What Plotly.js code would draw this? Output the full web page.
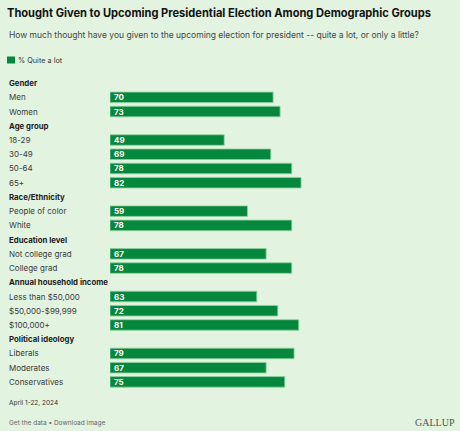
<!DOCTYPE html>
<html>
<head>
<meta charset="utf-8">
<script src="https://cdn.plot.ly/plotly-3.0.1.min.js"></script>
<style>
  html, body { margin: 0; padding: 0; background: #e2f3e0; }
  #chart { width: 460px; height: 431px; }
</style>
</head>
<body>
<div id="chart"></div>
<script>
// ---- Data ----
const groups = ["Gender", "Age group", "Race/Ethnicity", "Education level", "Annual household income", "Political ideology"];
const categories = [
  ["Men", "Women"],
  ["18-29", "30-49", "50-64", "65+"],
  ["People of color", "White"],
  ["Not college grad", "College grad"],
  ["Less than $50,000", "$50,000-$99,999", "$100,000+"],
  ["Liberals", "Moderates", "Conservatives"]
];
const values = [
  [70, 73],
  [49, 69, 78, 82],
  [59, 78],
  [67, 78],
  [63, 72, 81],
  [79, 67, 75]
];
const seriesName = "% Quite a lot";
const titleText = "Thought Given to Upcoming Presidential Election Among Demographic Groups";
const subtitleText = "How much thought have you given to the upcoming election for president -- quite a lot, or only a little?";
const dateText = "April 1-22, 2024";
const footerText = "Get the data \u2022 Download image";
const brandText = "GALLUP";

// ---- Layout constants ----
const W = 460, H = 431;
const M = { l: 110, r: 117, t: 76, b: 42 };
const PW = W - M.l - M.r, PH = H - M.t - M.b;
const px2x = px => (px - M.l) / PW;
const py2y = py => (H - M.b - py) / PH;

const BG = "#e2f3e0";
const GREEN = "#06873e";
const FONT = "Inter, 'Liberation Sans', Arial, sans-serif";

// ---- Build rows ----
const barY = [], barX = [], annotations = [];
let row = 0;
groups.forEach((g, gi) => {
  annotations.push({
    xref: "paper", yref: "y", x: px2x(7), y: row, xanchor: "left", yanchor: "middle",
    text: "<b>" + g + "</b>", showarrow: false,
    font: { family: FONT, size: 7.8, color: "#1c1c1c" }
  });
  row++;
  categories[gi].forEach((c, ci) => {
    const v = values[gi][ci];
    barY.push(row); barX.push(v);
    annotations.push({
      xref: "paper", yref: "y", x: px2x(7), y: row, xanchor: "left", yanchor: "middle",
      text: c, showarrow: false,
      font: { family: FONT, size: 8, color: "#3a3a3a" }
    });
    annotations.push({
      xref: "x", yref: "y", x: 0, y: row, xanchor: "left", yanchor: "middle", xshift: 1.5,
      text: "<b>" + v + "</b>", showarrow: false,
      font: { family: FONT, size: 8, color: "#ffffff" }
    });
    row++;
  });
});
const nRows = row;

// subtitle, legend text, footer
annotations.push({
  xref: "paper", yref: "paper", x: px2x(7), y: py2y(35), xanchor: "left", yanchor: "middle",
  text: subtitleText, showarrow: false, font: { family: FONT, size: 8.5, color: "#444444" }
});
annotations.push({
  xref: "paper", yref: "paper", x: px2x(16), y: py2y(60), xanchor: "left", yanchor: "middle",
  text: seriesName, showarrow: false, font: { family: FONT, size: 7.3, color: "#333333" }
});
annotations.push({
  xref: "paper", yref: "paper", x: px2x(7), y: py2y(403), xanchor: "left", yanchor: "middle",
  text: dateText, showarrow: false, font: { family: FONT, size: 6.5, color: "#333333" }
});
annotations.push({
  xref: "paper", yref: "paper", x: px2x(7), y: py2y(422.5), xanchor: "left", yanchor: "middle",
  text: footerText, showarrow: false, font: { family: FONT, size: 6.5, color: "#666666" }
});
annotations.push({
  xref: "paper", yref: "paper", x: px2x(413), y: py2y(422), xanchor: "left", yanchor: "middle",
  text: brandText, showarrow: false, font: { family: "'Liberation Serif', 'DejaVu Serif', serif", size: 10, color: "#555555" }
});

const trace = {
  type: "bar", orientation: "h", name: seriesName,
  x: barX, y: barY, width: 0.74,
  marker: { color: GREEN, line: { color: "#8fd09e", width: 0.8 } },
  hoverinfo: "skip", showlegend: false
};

const layout = {
  width: W, height: H,
  margin: M,
  paper_bgcolor: BG, plot_bgcolor: BG,
  title: {
    text: "<b>" + titleText + "</b>",
    x: 7 / W, xanchor: "left", xref: "container",
    y: 1 - 13.5 / H, yanchor: "middle", yref: "container",
    font: { family: FONT, size: 11.1, color: "#111111" }
  },
  xaxis: { range: [0, 100], visible: false, fixedrange: true },
  yaxis: { range: [nRows - 0.5, -0.5], visible: false, fixedrange: true },
  shapes: [{
    type: "rect", xref: "paper", yref: "paper",
    x0: px2x(7), x1: px2x(15), y0: py2y(63.5), y1: py2y(56.5),
    fillcolor: GREEN, line: { width: 0 }
  }],
  annotations: annotations,
  showlegend: false
};

Plotly.newPlot("chart", [trace], layout, { displayModeBar: false, staticPlot: true });
</script>
</body>
</html>
